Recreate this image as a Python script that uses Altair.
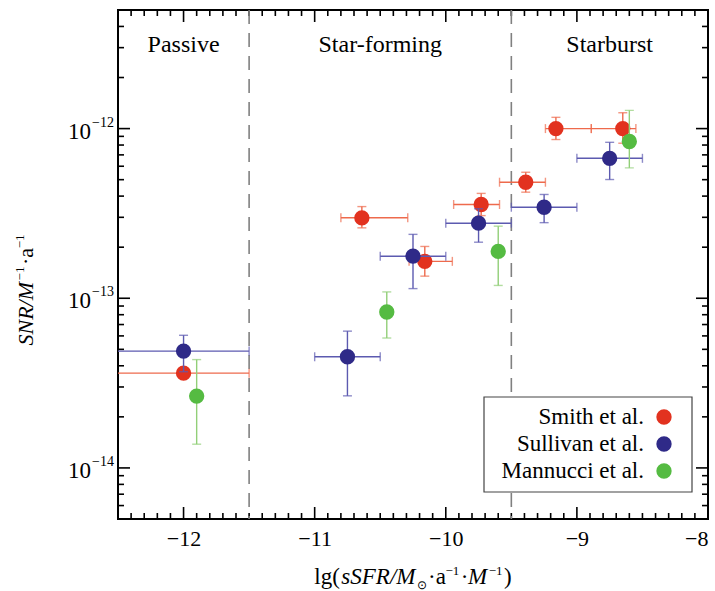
import altair as alt
import pandas as pd
import numpy as np

# ---------------- data ----------------
series = ["Smith et al.", "Sullivan et al.", "Mannucci et al."]
point_colors = ["#E2321F", "#2F2A88", "#55BB42"]
bar_colors = ["#EE6A4C", "#5C5AB0", "#92CF78"]

smith_x = [-12.0, -10.64, -10.16, -9.73, -9.39, -9.16, -8.65]
smith_y = [3.62e-14, 2.98e-13, 1.65e-13, 3.57e-13, 4.83e-13, 1.0e-12, 1.0e-12]
smith_xlo = [-12.55, -10.80, -10.28, -9.94, -9.59, -9.24, -8.89]
smith_xhi = [-11.5, -10.29, -9.95, -9.59, -9.24, -8.89, -8.55]
smith_ylo = [3.45e-14, 2.60e-13, 1.35e-13, 3.07e-13, 4.22e-13, 8.62e-13, 8.2e-13]
smith_yhi = [3.80e-14, 3.47e-13, 2.02e-13, 4.15e-13, 5.53e-13, 1.165e-12, 1.24e-12]

sullivan_x = [-12.0, -10.75, -10.25, -9.75, -9.25, -8.75]
sullivan_y = [4.88e-14, 4.52e-14, 1.77e-13, 2.77e-13, 3.44e-13, 6.68e-13]
sullivan_xlo = [-12.55, -11.0, -10.5, -10.0, -9.5, -9.0]
sullivan_xhi = [-11.5, -10.5, -10.0, -9.5, -9.0, -8.5]
sullivan_ylo = [3.69e-14, 2.66e-14, 1.14e-13, 2.14e-13, 2.79e-13, 5.01e-13]
sullivan_yhi = [6.05e-14, 6.40e-14, 2.38e-13, 3.37e-13, 4.09e-13, 8.30e-13]

mannucci_x = [-11.9, -10.45, -9.6, -8.6]
mannucci_y = [2.65e-14, 8.3e-14, 1.89e-13, 8.39e-13]
mannucci_ylo = [1.38e-14, 5.83e-14, 1.19e-13, 5.87e-13]
mannucci_yhi = [4.35e-14, 1.09e-13, 2.66e-13, 1.28e-12]

region_names = ["Passive", "Star-forming", "Starburst"]
region_bounds = [-12.5, -11.5, -9.5, -8.0]

x_major = [-12, -11, -10, -9, -8]
y_major = [1e-14, 1e-13, 1e-12]

# axis titles as (text, style, size, raise) pieces
x_title_parts = [("lg(", "normal", 23, 0), ("sSFR/M", "italic", 23, 0), ("\u2299", "normal", 12, -5),
                 ("\u00b7a", "normal", 23, 0), ("\u22121", "normal", 13, 9), ("\u00b7", "normal", 23, 0),
                 ("M", "italic", 23, 0), ("\u22121", "normal", 13, 9), (")", "normal", 23, 0)]
y_title_parts = [("SNR/M", "italic", 22, 0), ("\u22121", "normal", 13, 9), ("\u00b7a", "normal", 22, 0),
                 ("\u22121", "normal", 13, 9)]

# ---------------- layout / style ----------------
FONT = "Liberation Serif"
W, H = 590, 509
x_dom = [-12.5, -8.0]
y_dom = [5e-15, 5e-12]

xscale = alt.Scale(domain=x_dom, nice=False, zero=False)
yscale = alt.Scale(type="log", domain=y_dom, nice=False)

xaxis = alt.Axis(values=x_major, format="d", ticks=False, domain=False, grid=False,
                 labelFont=FONT, labelFontSize=22, labelColor="black", labelPadding=9,
                 title=None)


def X(field):
    return alt.X(field, type="quantitative", scale=xscale, axis=xaxis)


def Y(field):
    return alt.Y(field, type="quantitative", scale=yscale, axis=None)


# approximate Times / Liberation Serif advance widths (per 1000 em)
ROMAN = {"l": 278, "g": 500, "(": 333, ")": 333, "a": 444, "\u00b7": 250, "\u2212": 564, "1": 500,
         "\u2299": 800}
ITALIC = {"s": 389, "S": 500, "F": 611, "R": 611, "N": 667, "/": 278, "M": 833}
GAP = 1.5


def text_width(t, style, size):
    tab = ITALIC if style == "italic" else ROMAN
    return sum(tab.get(c, 500) for c in t) * size / 1000.0


one = pd.DataFrame({"a": [0]})


def rich_text(parts, x, y, angle=0):
    total = sum(text_width(t, s, z) for t, s, z, r in parts) + GAP * (len(parts) - 1)
    out = []
    off = -total / 2
    for t, s, z, r in parts:
        out.append(alt.Chart(one).mark_text(font=FONT, fontSize=z, fontStyle=s, color="black",
                                             align="left", baseline="alphabetic", angle=angle,
                                             dx=off, dy=-r).encode(
            x=alt.value(x), y=alt.value(y), text=alt.value(t)))
        off += text_width(t, s, z) + GAP
    return out


layers = []

# ---- axis ticks (inward, on all four sides) ----
x_minor = [v for v in np.round(np.arange(-12.5, -8.0 + 1e-9, 0.1), 2) if abs(v - round(v)) > 1e-6]
y_minor = []
for e in (-15, -14, -13, -12):
    for k in range(2, 10):
        v = k * 10.0 ** e
        if y_dom[0] * 1.001 < v < y_dom[1] * 0.999:
            y_minor.append(v)

dfxM = pd.DataFrame({"v": x_major})
dfxm = pd.DataFrame({"v": x_minor})
dfyM = pd.DataFrame({"v": y_major})
dfym = pd.DataFrame({"v": y_minor})

tick_style = dict(color="black", strokeWidth=1.6)
for df, L in ((dfxM, 12), (dfxm, 6)):
    layers.append(alt.Chart(df).mark_rule(**tick_style).encode(x=X("v"), y=alt.value(H), y2=alt.value(H - L)))
    layers.append(alt.Chart(df).mark_rule(**tick_style).encode(x=X("v"), y=alt.value(0), y2=alt.value(L)))
for df, L in ((dfyM, 12), (dfym, 6)):
    layers.append(alt.Chart(df).mark_rule(**tick_style).encode(y=Y("v"), x=alt.value(0), x2=alt.value(L)))
    layers.append(alt.Chart(df).mark_rule(**tick_style).encode(y=Y("v"), x=alt.value(W), x2=alt.value(W - L)))

# ---- y tick labels: 10 with superscript exponent ----
dfyl = pd.DataFrame({
    "v": y_major,
    "exp": ["\u2212" + str(abs(int(round(np.log10(v))))) for v in y_major],
})
layers.append(alt.Chart(dfyl).mark_text(font=FONT, fontSize=23, color="black", align="right",
                                         baseline="middle", dy=3).encode(
    y=Y("v"), x=alt.value(-27), text=alt.value("10")))
layers.append(alt.Chart(dfyl).mark_text(font=FONT, fontSize=14, color="black", align="left",
                                         baseline="middle", dy=-6).encode(
    y=Y("v"), x=alt.value(-26), text="exp:N"))

# ---- axis titles ----
layers += rich_text(x_title_parts, 295, 574)
layers += rich_text(y_title_parts, -85, 280, angle=270)

# ---- dashed region boundaries ----
dfb = pd.DataFrame({"b": region_bounds[1:-1]})
layers.append(alt.Chart(dfb).mark_rule(color="#808080", strokeWidth=1.6, strokeDash=[14, 9]).encode(x=X("b")))

# ---- region labels ----
dfr = pd.DataFrame({
    "name": region_names,
    "xc": [(region_bounds[i] + region_bounds[i + 1]) / 2 for i in range(3)],
})
layers.append(alt.Chart(dfr).mark_text(font=FONT, fontSize=24, color="black", baseline="middle").encode(
    x=X("xc"), y=alt.value(35), text="name:N"))

# ---- data series ----
all_data = [
    (smith_x, smith_y, smith_xlo, smith_xhi, smith_ylo, smith_yhi),
    (sullivan_x, sullivan_y, sullivan_xlo, sullivan_xhi, sullivan_ylo, sullivan_yhi),
    (mannucci_x, mannucci_y, None, None, mannucci_ylo, mannucci_yhi),
]
CAP = 9
for i, (xs, ys, xlo, xhi, ylo, yhi) in enumerate(all_data):
    df = pd.DataFrame({"x": xs, "y": ys, "ylo": ylo, "yhi": yhi})
    bc = bar_colors[i]
    if xlo is not None:
        df["xlo"] = xlo
        df["xhi"] = xhi
        layers.append(alt.Chart(df).mark_rule(color=bc, strokeWidth=1.4, clip=True).encode(
            x=X("xlo"), x2="xhi", y=Y("y")))
        for f in ("xlo", "xhi"):
            layers.append(alt.Chart(df).mark_tick(color=bc, thickness=1.4, size=CAP, orient="vertical", clip=True).encode(
                x=X(f), y=Y("y")))
    layers.append(alt.Chart(df).mark_rule(color=bc, strokeWidth=1.4).encode(
        x=X("x"), y=Y("ylo"), y2="yhi"))
    for f in ("ylo", "yhi"):
        layers.append(alt.Chart(df).mark_tick(color=bc, thickness=1.4, size=CAP, orient="horizontal").encode(
            x=X("x"), y=Y(f)))
    layers.append(alt.Chart(df).mark_circle(color=point_colors[i], size=235, opacity=1).encode(
        x=X("x"), y=Y("y")))

# ---- legend box ----
layers.append(alt.Chart(one).mark_rect(fill="white", stroke="#444444", strokeWidth=1.2).encode(
    x=alt.value(366), x2=alt.value(574), y=alt.value(387), y2=alt.value(482)))
row_y = [407, 434, 461]
for i, name in enumerate(series):
    layers.append(alt.Chart(one).mark_text(font=FONT, fontSize=23, color="black", align="right", baseline="middle").encode(
        x=alt.value(526), y=alt.value(row_y[i]), text=alt.value(name)))
    layers.append(alt.Chart(one).mark_circle(color=point_colors[i], size=235, opacity=1).encode(
        x=alt.value(546), y=alt.value(row_y[i])))

chart = alt.layer(*layers).properties(
    width=W, height=H,
    padding={"left": 118, "top": 10, "right": 7, "bottom": 72},
    autosize=alt.AutoSizeParams(type="none"),
    background="white",
).configure_view(stroke="black", strokeWidth=2, fill="white")

chart.save("out.html", embed_options={"renderer": "svg", "actions": False})
